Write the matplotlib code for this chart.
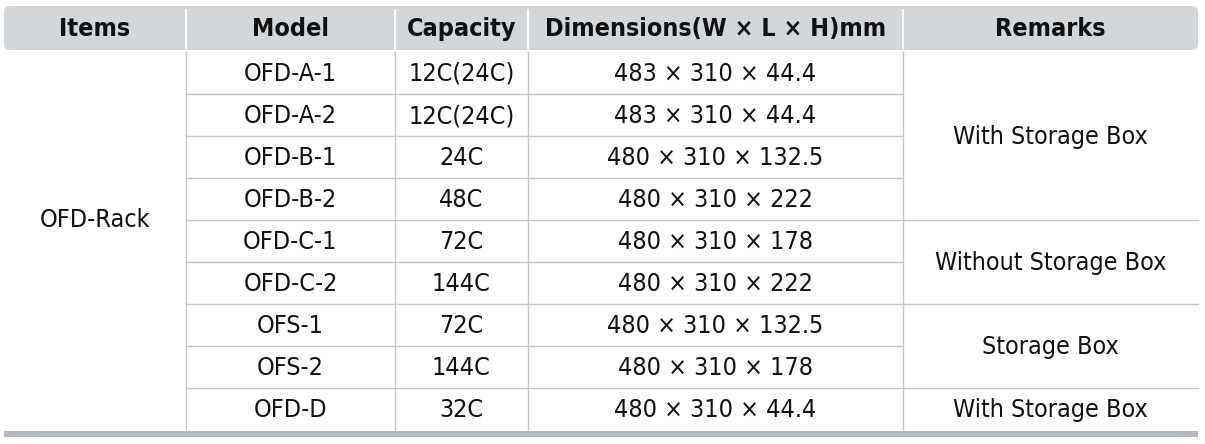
import matplotlib.pyplot as plt
from matplotlib.patches import FancyBboxPatch, Rectangle

plt.rcParams['font.family'] = ['DejaVu Sans']
plt.rcParams['font.stretch'] = 'condensed'

# --- Table data ---
headers = ['Items', 'Model', 'Capacity', 'Dimensions(W × L × H)mm', 'Remarks']
models = ['OFD-A-1', 'OFD-A-2', 'OFD-B-1', 'OFD-B-2', 'OFD-C-1', 'OFD-C-2',
          'OFS-1', 'OFS-2', 'OFD-D']
capacities = ['12C(24C)', '12C(24C)', '24C', '48C', '72C', '144C', '72C', '144C', '32C']
dimensions = ['483 × 310 × 44.4', '483 × 310 × 44.4', '480 × 310 × 132.5', '480 × 310 × 222',
              '480 × 310 × 178', '480 × 310 × 222', '480 × 310 × 132.5', '480 × 310 × 178',
              '480 × 310 × 44.4']
item_label = 'OFD-Rack'
# remarks as (text, first row, last row)
remarks = [('With Storage Box', 0, 3), ('Without Storage Box', 4, 5),
           ('Storage Box', 6, 7), ('With Storage Box', 8, 8)]

# --- Layout (pixels) ---
col_edges = [4, 186, 395, 528, 903, 1198]
head_top, head_bot = 6, 50
row_top, row_h = 52, 42
line_col = '#c3c7cc'
head_col = '#d2d7dc'
fs = 18

fig = plt.figure(figsize=(12.05, 4.44), dpi=100)
ax = fig.add_axes([0, 0, 1, 1])
ax.set_xlim(0, 1205)
ax.set_ylim(444, 0)
ax.axis('off')

# header
ax.add_patch(FancyBboxPatch((col_edges[0] + 6, head_top + 6),
                            col_edges[-1] - col_edges[0] - 12, head_bot - head_top - 12,
                            boxstyle='round,pad=6', fc=head_col, ec='none'))
for x in col_edges[1:-1]:
    ax.plot([x, x], [head_top + 4, head_bot - 2], color='white', lw=1.5)
for i, h in enumerate(headers):
    cx = (col_edges[i] + col_edges[i + 1]) / 2
    ax.text(cx, (head_top + head_bot) / 2 + 1, h, ha='center', va='center',
            fontsize=fs, fontweight='bold', color='#111111')

n = len(models)
bottom = row_top + n * row_h

# vertical lines
for x in col_edges[1:-1]:
    ax.plot([x, x], [row_top, bottom], color=line_col, lw=1)

# horizontal separators
remark_breaks = {r[2] for r in remarks}
for r in range(n - 1):
    y = row_top + (r + 1) * row_h
    x_end = col_edges[-1] if r in remark_breaks else col_edges[4]
    ax.plot([col_edges[1], x_end], [y, y], color=line_col, lw=1)

# bottom bar
ax.add_patch(Rectangle((col_edges[0], bottom + 1), col_edges[-1] - col_edges[0], 6,
                       fc='#b4babf', ec='none'))

# body text
for r in range(n):
    cy = row_top + r * row_h + row_h / 2 + 1
    for c, vals in zip([1, 2, 3], [models, capacities, dimensions]):
        cx = (col_edges[c] + col_edges[c + 1]) / 2
        ax.text(cx, cy, vals[r], ha='center', va='center', fontsize=fs, color='#111111')

ax.text((col_edges[0] + col_edges[1]) / 2, row_top + 4 * row_h, item_label,
        ha='center', va='center', fontsize=fs, color='#111111')
for text, r0, r1 in remarks:
    cy = row_top + (r0 + r1 + 1) * row_h / 2 + 1
    ax.text((col_edges[4] + col_edges[5]) / 2, cy, text, ha='center', va='center',
            fontsize=fs, color='#111111')

fig.savefig('out.png', dpi=100)
